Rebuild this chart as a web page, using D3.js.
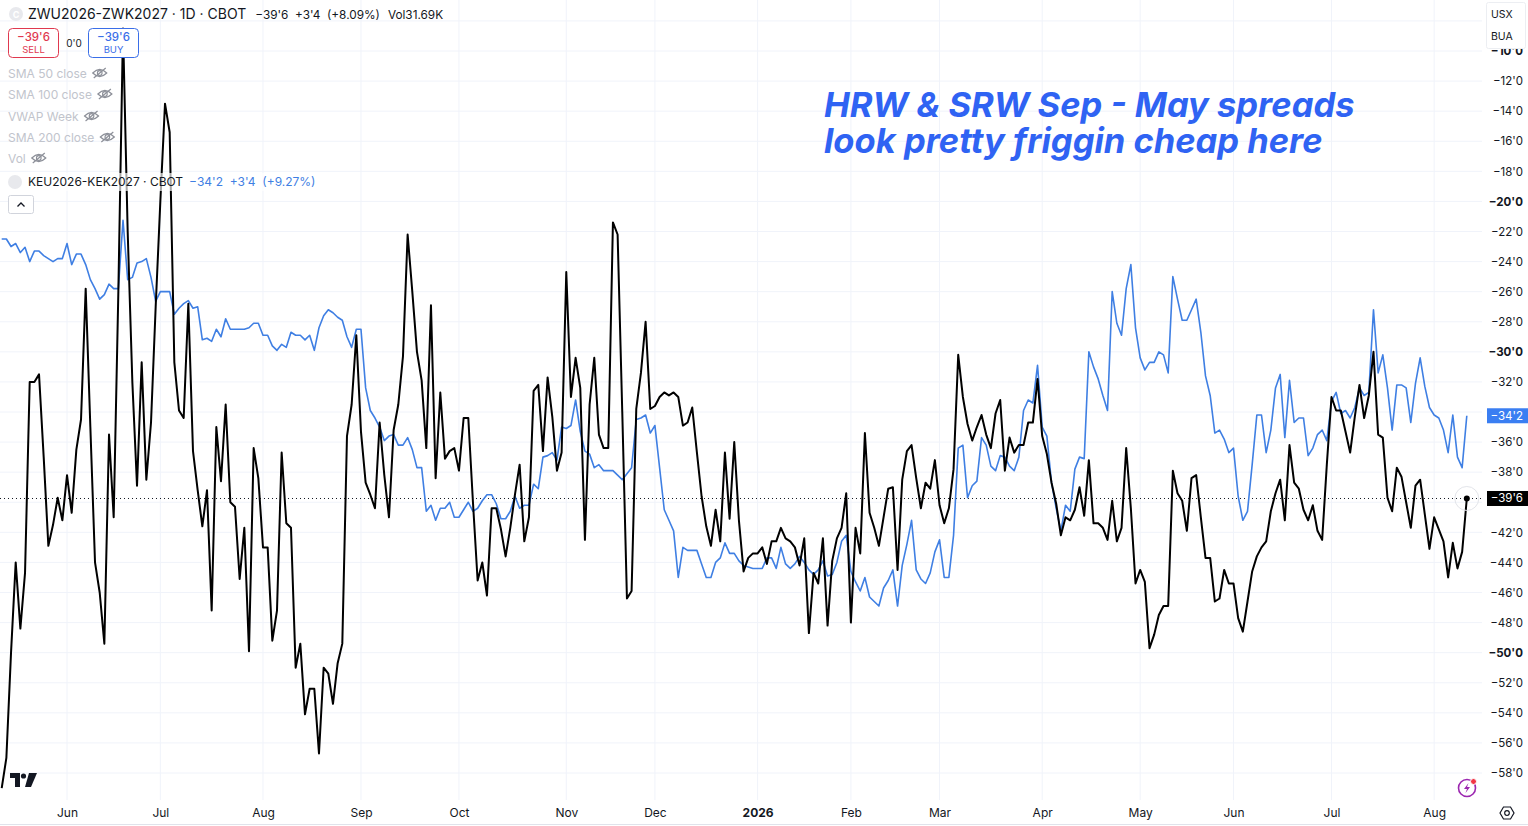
<!DOCTYPE html>
<html>
<head>
<meta charset="utf-8">
<script src="https://cdn.jsdelivr.net/npm/d3@7"></script>
<style>
  body { margin:0; background:#fff; font-family: Inter, "Noto Sans", sans-serif; }
  #main { position: relative; width: 1528px; height: 826px; }
  svg text { font-family: Inter, "Noto Sans", sans-serif; white-space: pre; }
  #note { position: absolute; left: 824px; top: 86.5px; font-size: 34.5px; line-height: 36px;
          font-weight: 700; font-style: italic; color: #2f63f3; white-space: nowrap; }
</style>
</head>
<body>
<div id="main"></div>
<script>
const w = 1528;
const h = 826;
const plotRight = 1482;
const plotBottom = 800;

// month labels on the time axis and the bar (trading day) they sit on
const monthLabels = ["Jun","Jul","Aug","Sep","Oct","Nov","Dec","2026","Feb","Mar","Apr","May","Jun","Jul","Aug"];
const monthBars = [14,34,56,77,98,121,140,162,182,201,223,244,264,285,307];

// price axis labels (cents); -34 and -40 sit under the last-price tags
const priceTicks = [-10,-12,-14,-16,-18,-20,-22,-24,-26,-28,-30,-32,-36,-38,-42,-44,-46,-48,-50,-52,-54,-56,-58];
const gridTicks = [-8,-10,-12,-14,-16,-18,-20,-22,-24,-26,-28,-30,-32,-34,-36,-38,-40,-42,-44,-46,-48,-50,-52,-54,-56,-58];

// ZWU2026-ZWK2027 daily close (SRW), one value per bar
const srwSpread = [
  -59.0,-57.0,-50.0,-44.0,-48.4,-44.7,-32.0,-32.0,-31.5,-37.0,
  -42.9,-41.5,-39.7,-41.2,-38.2,-40.7,-36.5,-34.5,-25.8,-35.0,
  -44.0,-46.0,-49.4,-35.5,-41.0,-26.0,-8.5,-22.0,-32.0,-38.9,
  -30.7,-38.5,-34.7,-27.0,-20.0,-13.5,-15.4,-30.7,-33.9,-34.4,
  -26.8,-36.6,-39.2,-41.6,-39.2,-47.2,-35.0,-38.6,-33.5,-40.0,
  -40.3,-45.1,-41.7,-49.9,-36.4,-38.4,-43.0,-43.0,-49.2,-47.2,
  -36.7,-41.4,-41.7,-51.0,-49.4,-54.1,-52.4,-52.4,-56.7,-51.0,
  -51.4,-53.4,-50.7,-49.4,-35.6,-33.5,-28.9,-35.3,-38.7,-39.5,
  -40.4,-34.7,-38.2,-41.0,-35.2,-33.5,-30.3,-22.2,-26.0,-30.0,
  -31.9,-36.4,-26.9,-38.4,-32.7,-37.1,-36.6,-36.4,-37.9,-34.4,
  -34.4,-40.0,-45.2,-44.0,-46.2,-40.4,-40.4,-41.8,-43.6,-41.7,
  -39.5,-37.5,-42.6,-41.0,-32.6,-32.2,-36.6,-31.7,-34.3,-37.9,
  -36.7,-24.7,-33.0,-30.4,-32.4,-42.5,-33.5,-30.4,-35.5,-36.4,
  -36.4,-21.4,-22.2,-34.0,-46.4,-45.9,-33.8,-31.4,-28.0,-33.8,
  -33.6,-33.0,-32.7,-32.9,-32.7,-33.0,-34.9,-34.7,-33.7,-36.7,
  -39.6,-41.6,-42.9,-40.5,-42.6,-36.7,-41.1,-36.0,-41.2,-44.6,
  -43.7,-43.4,-43.4,-43.0,-44.1,-42.6,-42.6,-41.7,-42.4,-42.6,
  -43.0,-44.2,-42.4,-48.7,-44.7,-45.4,-42.4,-48.2,-43.9,-42.4,
  -41.7,-39.4,-48.0,-41.7,-43.4,-35.4,-40.7,-41.7,-42.9,-41.0,
  -39.1,-39.0,-44.5,-38.5,-36.6,-36.2,-38.4,-40.4,-38.7,-39.1,
  -37.2,-40.2,-41.4,-40.4,-37.8,-30.2,-33.0,-34.8,-35.9,-35.0,
  -34.2,-35.5,-36.4,-34.1,-33.2,-37.9,-35.7,-36.7,-36.2,-36.2,
  -34.7,-34.7,-31.8,-35.6,-36.8,-38.7,-40.1,-42.2,-41.0,-41.2,
  -40.5,-39.0,-40.9,-37.2,-41.4,-41.4,-41.7,-42.5,-39.9,-42.6,
  -41.7,-36.4,-40.4,-45.4,-44.5,-45.3,-49.7,-48.8,-47.5,-46.9,
  -46.9,-37.9,-39.4,-39.9,-41.9,-38.4,-38.2,-41.0,-43.7,-43.7,
  -46.6,-46.4,-44.5,-45.4,-45.4,-47.7,-48.6,-46.6,-44.6,-43.6,
  -43.0,-42.6,-40.6,-39.4,-38.5,-41.2,-36.2,-38.7,-39.1,-40.5,
  -41.2,-40.2,-41.9,-42.5,-37.5,-33.0,-33.9,-33.9,-35.3,-36.7,
  -34.3,-32.2,-34.4,-32.9,-30.0,-35.5,-35.7,-39.7,-40.6,-37.7,
  -38.3,-40.0,-41.7,-38.9,-38.5,-40.8,-43.1,-41.0,-41.8,-42.6,
  -45.0,-42.7,-44.4,-43.3,-39.75
];

// KEU2026-KEK2027 daily close (HRW), one value per bar
const hrwSpread = [
  -22.5,-22.5,-23.0,-22.8,-23.4,-23.05,-24.0,-23.3,-23.3,-23.6,
  -23.8,-24.0,-23.8,-23.8,-22.8,-24.2,-23.5,-23.5,-24.2,-25.2,
  -25.8,-26.5,-26.2,-25.5,-25.8,-25.8,-21.25,-25.2,-25.05,-24.1,
  -24.0,-23.8,-25.05,-26.65,-26.0,-26.0,-26.0,-27.5,-27.1,-26.8,
  -26.6,-27.1,-27.0,-29.2,-29.1,-29.3,-28.5,-29.0,-27.8,-28.5,
  -28.5,-28.5,-28.5,-28.4,-28.1,-28.1,-28.9,-28.9,-29.6,-29.9,
  -29.5,-29.7,-28.7,-28.9,-28.9,-29.2,-28.9,-29.9,-28.4,-27.6,
  -27.2,-27.4,-27.7,-27.9,-29.0,-29.7,-28.5,-28.5,-32.4,-33.9,
  -34.4,-35.0,-35.9,-35.6,-35.5,-36.2,-36.2,-35.7,-36.5,-37.7,
  -37.7,-40.6,-40.2,-41.2,-40.4,-40.4,-40.0,-41.0,-41.0,-40.5,
  -40.0,-40.6,-40.4,-39.9,-39.5,-39.5,-40.1,-41.1,-41.1,-40.6,
  -39.6,-40.4,-40.2,-40.2,-38.8,-39.1,-37.0,-36.9,-36.7,-37.2,
  -35.0,-35.1,-34.9,-33.2,-35.3,-36.6,-36.8,-37.7,-37.5,-37.9,
  -37.9,-37.9,-38.2,-38.5,-38.1,-37.7,-34.5,-34.4,-34.2,-35.4,
  -34.9,-37.7,-40.5,-41.2,-41.9,-45.0,-43.0,-43.2,-43.2,-43.2,
  -44.1,-45.0,-45.0,-44.0,-43.7,-42.7,-43.4,-43.4,-43.9,-44.2,
  -44.3,-44.4,-44.4,-44.4,-43.7,-43.7,-44.4,-43.0,-44.1,-44.4,
  -44.1,-43.6,-44.0,-44.5,-44.8,-44.5,-43.9,-44.9,-44.8,-44.0,
  -42.6,-42.2,-44.6,-45.3,-45.9,-45.0,-46.3,-46.6,-46.9,-45.7,
  -45.2,-44.5,-46.9,-44.2,-42.8,-41.2,-44.5,-45.1,-45.4,-44.7,
  -43.3,-42.5,-45.0,-45.0,-42.2,-36.4,-36.2,-39.7,-38.9,-38.6,
  -35.7,-36.2,-37.6,-37.9,-36.9,-37.0,-37.6,-37.9,-37.0,-33.9,
  -33.2,-33.4,-30.9,-35.0,-35.6,-38.7,-40.4,-41.9,-40.2,-40.6,
  -37.8,-37.0,-37.1,-30.0,-31.0,-31.8,-32.9,-33.9,-26.0,-28.1,
  -28.9,-25.8,-24.2,-28.4,-30.4,-31.2,-30.7,-30.7,-30.0,-30.2,
  -31.4,-25.0,-26.5,-27.9,-27.9,-27.2,-26.5,-28.7,-31.6,-32.9,
  -35.4,-35.2,-35.8,-36.7,-36.4,-39.6,-41.2,-40.6,-37.5,-34.2,
  -34.2,-36.7,-35.2,-32.4,-31.5,-35.7,-31.9,-34.7,-34.4,-34.4,
  -36.9,-36.4,-35.5,-35.2,-35.9,-33.3,-32.7,-34.1,-33.9,-34.4,
  -33.7,-32.4,-32.9,-32.7,-27.2,-31.4,-30.2,-32.4,-35.2,-32.2,
  -32.2,-32.4,-34.7,-32.1,-30.4,-32.3,-33.7,-34.2,-34.4,-35.2,
  -36.7,-34.2,-37.0,-37.7,-34.25
];

const indicatorRows = ["SMA 50 close","SMA 100 close","VWAP Week","SMA 200 close","Vol"];
const noteLines = ["HRW & SRW Sep - May spreads","look pretty friggin cheap here"];

const blackColor = "#000000";
const blueColor = "#3f7fe3";
const textColor = "#131722";
const gridColor = "#f0f3fa";

// price in cents with eighths: -39.75 -> −39'6
function fmtPrice(v){
  const a = Math.abs(v);
  const whole = Math.floor(a + 1e-9);
  const eighths = Math.round((a - whole) * 8);
  return (v < 0 ? "\u2212" : "") + whole + "'" + eighths;
}

const svg = d3.select("#main")
  .append("svg")
  .attr("width", w)
  .attr("height", h)
  .style("display","block");

const x = d3.scaleLinear().domain([0, srwSpread.length - 1]).range([1.7, 1466.8]);
const y = d3.scaleLinear().domain([-10, -58]).range([51, 773]);

svg.append("defs").append("clipPath").attr("id","plotClip")
  .append("rect").attr("x",0).attr("y",0).attr("width",plotRight).attr("height",plotBottom);

// grid
const grid = svg.append("g").attr("clip-path","url(#plotClip)");
grid.selectAll(".hg").data(gridTicks).enter().append("line")
  .attr("x1",0).attr("x2",plotRight)
  .attr("y1",d=>y(d)).attr("y2",d=>y(d))
  .attr("stroke",gridColor).attr("stroke-width",1);
grid.selectAll(".vg").data(monthBars).enter().append("line")
  .attr("x1",d=>x(d)).attr("x2",d=>x(d))
  .attr("y1",0).attr("y2",plotBottom)
  .attr("stroke",gridColor).attr("stroke-width",1);

const lastSrw = srwSpread[srwSpread.length-1];
const lastHrw = hrwSpread[hrwSpread.length-1];

// last price dotted line
svg.append("line")
  .attr("x1",0).attr("x2",plotRight)
  .attr("y1",y(lastSrw)).attr("y2",y(lastSrw))
  .attr("stroke","#131722").attr("stroke-width",1)
  .attr("stroke-dasharray","1,3");

const line = d3.line()
  .x((d,i)=>x(i))
  .y(d=>y(d));

const lines = svg.append("g").attr("clip-path","url(#plotClip)");
lines.append("path").datum(hrwSpread)
  .attr("d",line).attr("fill","none")
  .attr("stroke",blueColor).attr("stroke-width",1.6)
  .attr("stroke-linejoin","round");
lines.append("path").datum(srwSpread)
  .attr("d",line).attr("fill","none")
  .attr("stroke",blackColor).attr("stroke-width",2)
  .attr("stroke-linejoin","round");

// last point marker
svg.append("circle").attr("cx",x(srwSpread.length-1)).attr("cy",y(lastSrw))
  .attr("r",12).attr("fill","none").attr("stroke","#e3e5ea").attr("stroke-width",1);
svg.append("circle").attr("cx",x(srwSpread.length-1)).attr("cy",y(lastSrw))
  .attr("r",3).attr("fill","#000");

// legend (top left)
const legend = svg.append("g");
legend.append("circle").attr("cx",16).attr("cy",14).attr("r",7).attr("fill","#e8e9ed");
legend.append("text").attr("x",16).attr("y",17.5).attr("text-anchor","middle")
  .attr("font-size",9).attr("fill","#fff").attr("font-weight",700).text("C");
const title = legend.append("text").attr("x",28).attr("y",19).attr("font-size",14).attr("fill",textColor)
  .text("ZWU2026-ZWK2027 \u00b7 1D \u00b7 CBOT");
const titleEnd = 28 + title.node().getComputedTextLength();
const chg = legend.append("text").attr("x",titleEnd + 9).attr("y",18.5).attr("font-size",11.8).attr("fill",textColor)
  .text(fmtPrice(lastSrw) + "  +3'4  (+8.09%)");
legend.append("text").attr("x",titleEnd + 9 + chg.node().getComputedTextLength() + 8).attr("y",18.5)
  .attr("font-size",11.8).attr("fill",textColor)
  .text("Vol31.69K");

function tradeBox(x0, color, label){
  const g = legend.append("g");
  g.append("rect").attr("x",x0).attr("y",28.5).attr("width",50).attr("height",29)
    .attr("rx",4).attr("fill","#fff").attr("stroke",color).attr("stroke-width",1);
  g.append("text").attr("x",x0+25).attr("y",41).attr("text-anchor","middle")
    .attr("font-size",11.5).attr("font-weight",500).attr("fill",color).text(fmtPrice(lastSrw));
  g.append("text").attr("x",x0+25).attr("y",53).attr("text-anchor","middle")
    .attr("font-size",9.5).attr("fill",color).text(label);
}
tradeBox(8.5,"#e0394f","SELL");
tradeBox(88.5,"#3a6ee8","BUY");
legend.append("text").attr("x",74).attr("y",47).attr("text-anchor","middle")
  .attr("font-size",10).attr("fill",textColor).text("0'0");

const rowY = [74,95,117,138,159];
const rows = legend.selectAll(".ind").data(indicatorRows).enter().append("g");
rows.append("text").attr("x",8).attr("y",(d,i)=>rowY[i]+4)
  .attr("font-size",12).attr("fill","#c1c4cc").text(d=>d);
rows.each(function(d,i){
  const tw = this.querySelector("text").getComputedTextLength();
  const g = d3.select(this).append("g")
    .attr("transform","translate("+(8+tw+13)+","+(rowY[i]-1)+")")
    .attr("fill","none").attr("stroke","#8d9099").attr("stroke-width",1.2);
  g.append("path").attr("d","M-7,0 Q0,-7 7,0 Q0,7 -7,0 Z");
  g.append("circle").attr("r",2.3);
  g.append("line").attr("x1",-6).attr("y1",5).attr("x2",6).attr("y2",-5);
});

legend.append("rect").attr("x",24).attr("y",173).attr("width",292).attr("height",18)
  .attr("fill","#fff").attr("opacity",0.65);
legend.append("circle").attr("cx",15).attr("cy",182).attr("r",7).attr("fill","#e8e9ed");
const keu = legend.append("text").attr("x",28).attr("y",186).attr("font-size",12).attr("fill",textColor)
  .text("KEU2026-KEK2027 \u00b7 CBOT");
legend.append("text").attr("x",28 + keu.node().getComputedTextLength() + 6).attr("y",186)
  .attr("font-size",12).attr("fill",blueColor)
  .text(fmtPrice(lastHrw) + "  +3'4  (+9.27%)");
legend.append("rect").attr("x",8.5).attr("y",195.5).attr("width",25).attr("height",18)
  .attr("rx",2).attr("fill","#fff").attr("stroke","#d1d4dc");
legend.append("path").attr("d","M17.5,206.5 L21,203 L24.5,206.5")
  .attr("fill","none").attr("stroke",textColor).attr("stroke-width",1.3);

// annotation: one text block over the chart, two lines
d3.select("#main").append("div")
  .attr("id","note")
  .html(noteLines.join("<br>"));

// right price axis
const yAxis = d3.axisRight(y)
  .tickValues(priceTicks)
  .tickSize(0)
  .tickFormat(d=>fmtPrice(d));
const yG = svg.append("g").attr("transform","translate("+(w-5)+",0)").call(yAxis);
yG.select(".domain").remove();
yG.selectAll("text")
  .attr("x",0).attr("text-anchor","end")
  .attr("font-size",11.5).attr("fill",textColor)
  .attr("font-weight",d=>d % 10 === 0 ? 700 : 400)
  .style("font-family","Inter, 'Noto Sans', sans-serif");

// current price tags
function priceTag(v, bg){
  const g = svg.append("g");
  g.append("rect").attr("x",1487).attr("y",y(v)-7.5).attr("width",41).attr("height",15).attr("fill",bg);
  g.append("text").attr("x",1523).attr("y",y(v)+4).attr("text-anchor","end")
    .attr("font-size",11.5).attr("fill","#fff").text(fmtPrice(v));
}
priceTag(lastHrw, "#3a7ef2");
priceTag(lastSrw, "#000");

// currency / unit box (covers the top of the -10'0 label)
svg.append("rect").attr("x",1486.5).attr("y",2.5).attr("width",39).attr("height",46)
  .attr("rx",2).attr("fill","#fff").attr("stroke","#eceef2");
svg.append("text").attr("x",1491).attr("y",18).attr("font-size",10.5).attr("fill",textColor).text("USX");
svg.append("text").attr("x",1491).attr("y",40).attr("font-size",10.5).attr("fill",textColor).text("BUA");

// time axis
const xAxis = d3.axisBottom(x)
  .tickValues(monthBars)
  .tickSize(0)
  .tickFormat((d,i)=>monthLabels[i]);
const xG = svg.append("g").attr("transform","translate(0,803)").call(xAxis);
xG.select(".domain").remove();
xG.selectAll("text")
  .attr("y",0).attr("dy","14")
  .attr("font-size",12).attr("fill",textColor)
  .attr("font-weight",(d,i)=>monthLabels[i] === "2026" ? 700 : 400)
  .style("font-family","Inter, 'Noto Sans', sans-serif");
svg.append("line").attr("x1",0).attr("x2",w).attr("y1",824.5).attr("y2",824.5)
  .attr("stroke","#e0e3eb");

// TradingView mark
const logo = svg.append("g").attr("fill","#131722");
logo.append("path").attr("d","M10,773 H20 V787 H15 V778 H10 Z");
logo.append("circle").attr("cx",23.5).attr("cy",776).attr("r",2.6);
logo.append("path").attr("d","M29,773 H37 L31,787 H25 Z");

// lightning button
const bolt = svg.append("g").attr("transform","translate(1467,788)");
bolt.append("circle").attr("r",8.5).attr("fill","#fff").attr("stroke","#9c27b0").attr("stroke-width",1.6);
bolt.append("path").attr("d","M1.5,-5 L-3,1 H0 L-1.5,5 L3,-1 H0 Z").attr("fill","#9c27b0");
bolt.append("circle").attr("cx",6.5).attr("cy",-6.5).attr("r",3).attr("fill","#f23645")
  .attr("stroke","#fff").attr("stroke-width",1);

// settings gear
const gear = svg.append("g").attr("transform","translate(1507,813)")
  .attr("fill","none").attr("stroke","#131722").attr("stroke-width",1.2);
gear.append("path").attr("d","M-7,0 L-3.5,-6 H3.5 L7,0 L3.5,6 H-3.5 Z");
gear.append("circle").attr("r",2.3);
</script>
</body>
</html>
